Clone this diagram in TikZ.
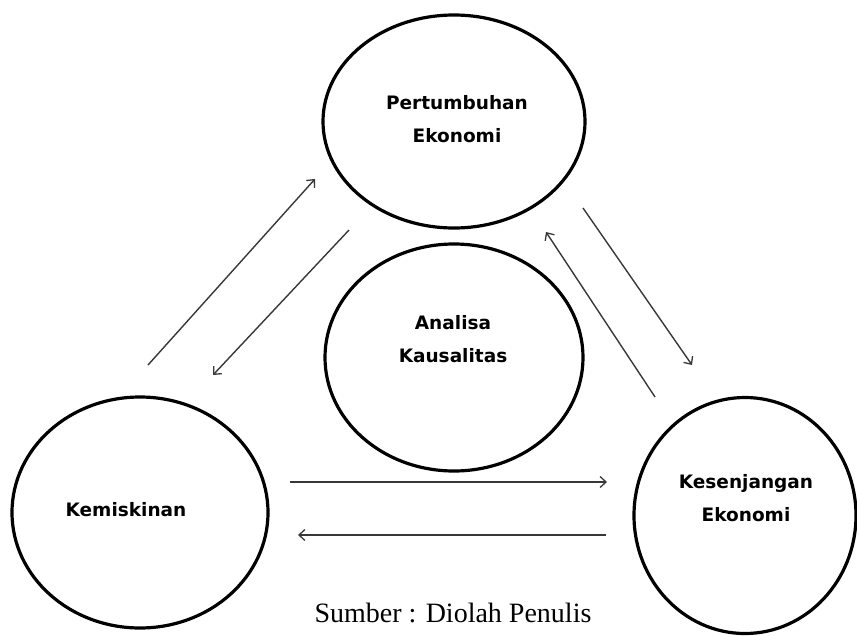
\documentclass[tikz,border=0pt]{standalone}
\usepackage{fontspec}
\setmainfont{Liberation Serif}
\newfontfamily\boxfont{DejaVu Sans}
\usetikzlibrary{shapes.geometric,arrows.meta}
\tikzset{
  bubble/.style={draw=black, line width=3.2pt, ellipse, inner sep=0pt, fill=none},
  lbl/.style={font=\boxfont\bfseries\fontsize{18.5}{33}\selectfont, align=center, inner sep=0pt},
  link/.style={draw=black!78, line width=1.4pt, -{Straight Barb[length=6pt,width=11pt,line width=1.3pt]}},
  caption/.style={font=\fontsize{28}{32}\selectfont, inner sep=0pt, anchor=base}
}
\begin{document}
\begin{tikzpicture}[x=1pt,y=-1pt]
\useasboundingbox (0,0) rectangle (857,635);
\clip (0,0) rectangle (857,635);
% ellipses
\node[bubble, minimum width=262pt, minimum height=213pt] (pert) at (454,121.5) {};
\node[bubble, minimum width=258pt, minimum height=227pt] (anal) at (454,357.5) {};
\node[bubble, minimum width=256pt, minimum height=231pt] (kem) at (140,512.5) {};
\node[bubble, minimum width=222pt, minimum height=236pt] (kes) at (745,515.5) {};
% labels
\node[lbl] (tpert) at (457,119) {Pertumbuhan\\Ekonomi};
\node[lbl] (tanal) at (453,339) {Analisa\\Kausalitas};
\node[lbl] (tkem) at (126,510) {Kemiskinan};
\node[lbl] (tkes) at (746,498) {Kesenjangan\\Ekonomi};
% arrow end points
\coordinate (a1s) at (148,365); \coordinate (a1e) at (315,179);
\coordinate (a2s) at (349,230); \coordinate (a2e) at (213,375);
\coordinate (a3s) at (583,208); \coordinate (a3e) at (692,365);
\coordinate (a4s) at (655,397); \coordinate (a4e) at (546,232);
\coordinate (a5s) at (290,482); \coordinate (a5e) at (607,482);
\coordinate (a6s) at (606,535); \coordinate (a6e) at (298,535);
\draw[link] (a1s) -- (a1e);
\draw[link] (a2s) -- (a2e);
\draw[link] (a3s) -- (a3e);
\draw[link] (a4s) -- (a4e);
\draw[link] (a5s) -- (a5e);
\draw[link] (a6s) -- (a6e);
% caption
\node[caption] (cap) at (453,622) {Sumber : Diolah Penulis};
\end{tikzpicture}
\end{document}
